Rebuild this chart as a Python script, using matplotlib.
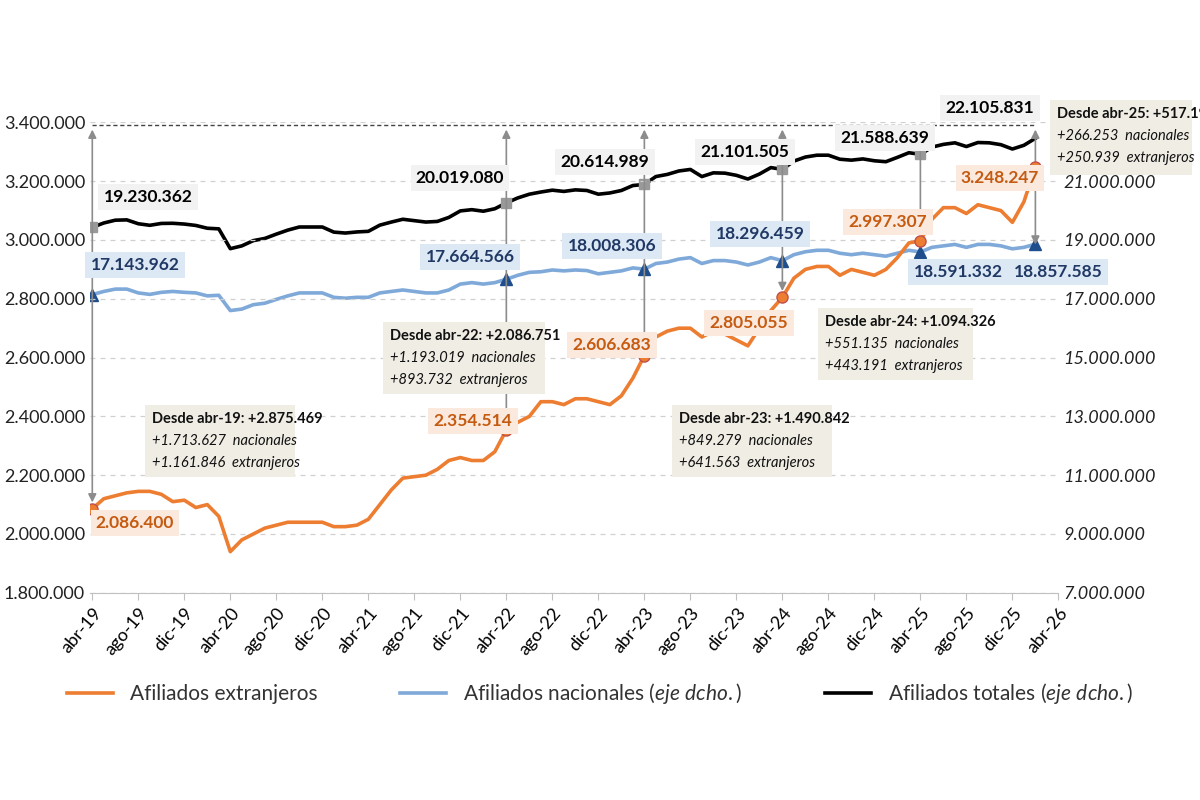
import matplotlib
matplotlib.use("Agg")
import matplotlib.pyplot as plt
from matplotlib.patches import Rectangle
from matplotlib.lines import Line2D
import numpy as np

plt.rcParams['font.family'] = ['Lato', 'DejaVu Sans']
plt.rcParams['mathtext.fontset'] = 'custom'
plt.rcParams['mathtext.it'] = 'Lato:italic'
plt.rcParams['mathtext.rm'] = 'Lato'

# Monthly data, abr-19 .. feb-26
extranjeros = [
    2.086, 2.12, 2.13, 2.14, 2.145, 2.145, 2.135, 2.11, 2.115,
    2.09, 2.10, 2.06, 1.94, 1.98, 2.00, 2.02, 2.03, 2.04, 2.04, 2.04, 2.04,
    2.025, 2.025, 2.03, 2.05, 2.10, 2.15, 2.19, 2.195, 2.20, 2.22, 2.25, 2.26,
    2.25, 2.25, 2.28, 2.354, 2.38, 2.40, 2.45, 2.45, 2.44, 2.46, 2.46, 2.45,
    2.44, 2.47, 2.53, 2.607, 2.67, 2.69, 2.70, 2.70, 2.67, 2.69, 2.68, 2.66,
    2.64, 2.70, 2.76, 2.805, 2.87, 2.90, 2.91, 2.91, 2.88, 2.90, 2.89, 2.88,
    2.90, 2.94, 2.99, 2.997, 3.07, 3.11, 3.11, 3.09, 3.12, 3.11, 3.10, 3.06,
    3.13, 3.248]
nacionales = [
    17.144, 17.25, 17.33, 17.33, 17.2, 17.15, 17.22, 17.25, 17.22,
    17.2, 17.1, 17.12, 16.6, 16.65, 16.8, 16.85, 16.98, 17.1, 17.2, 17.2, 17.2,
    17.05, 17.02, 17.05, 17.05, 17.2, 17.25, 17.3, 17.25, 17.2, 17.2, 17.3, 17.5,
    17.55, 17.5, 17.55, 17.665, 17.8, 17.9, 17.92, 17.98, 17.95, 17.98, 17.96, 17.85,
    17.9, 17.95, 18.05, 18.008, 18.2, 18.25, 18.35, 18.4, 18.2, 18.3, 18.3, 18.25,
    18.15, 18.25, 18.4, 18.296, 18.5, 18.6, 18.65, 18.65, 18.55, 18.5, 18.55, 18.5,
    18.45, 18.55, 18.65, 18.591, 18.75, 18.8, 18.85, 18.75, 18.85, 18.85, 18.8, 18.7,
    18.75, 18.858]
totales = [e + n for e, n in zip(extranjeros, nacionales)]

tick_labels = ['abr-19', 'ago-19', 'dic-19', 'abr-20', 'ago-20', 'dic-20', 'abr-21', 'ago-21',
               'dic-21', 'abr-22', 'ago-22', 'dic-22', 'abr-23', 'ago-23', 'dic-23', 'abr-24',
               'ago-24', 'dic-24', 'abr-25', 'ago-25', 'dic-25', 'abr-26']
mark_idx = [0, 36, 48, 60, 72]
last = len(extranjeros) - 1
lab_tot = ['19.230.362', '20.019.080', '20.614.989', '21.101.505', '21.588.639', '22.105.831']
lab_nac = ['17.143.962', '17.664.566', '18.008.306', '18.296.459', '18.591.332', '18.857.585']
lab_ext = ['2.086.400', '2.354.514', '2.606.683', '2.805.055', '2.997.307', '3.248.247']
boxes = [
    ('Desde abr-19: +2.875.469', '+1.713.627  nacionales', '+1.161.846  extranjeros'),
    ('Desde abr-22: +2.086.751', '+1.193.019  nacionales', '+893.732  extranjeros'),
    ('Desde abr-23: +1.490.842', '+849.279  nacionales', '+641.563  extranjeros'),
    ('Desde abr-24: +1.094.326', '+551.135  nacionales', '+443.191  extranjeros'),
    ('Desde abr-25: +517.192', '+266.253  nacionales', '+250.939  extranjeros'),
]

ORANGE = '#ed7d31'; BLUE = '#7fa9d9'; NAVY = '#1f3864'; GREY = '#8c8c8c'

fig = plt.figure(figsize=(12, 8), dpi=100)
rect = [0.075, 0.259, 0.807, 0.588]
ax = fig.add_axes(rect)
ax2 = ax.twinx()
ax3 = ax.twinx()
ax3.axis('off')
ax.set_zorder(ax2.get_zorder() + 2)
ax3.set_zorder(ax2.get_zorder() + 1)
ax.patch.set_visible(False)
ax3.patch.set_visible(False)

x = np.arange(len(extranjeros))
ax3.plot(x, totales, color='black', lw=2.6)
ax2.plot(x, nacionales, color=BLUE, lw=2.6)
ax.plot(x, extranjeros, color=ORANGE, lw=2.6)

ax.set_xlim(-0.2, 84)
ax.set_ylim(1.8, 3.4)
ax2.set_ylim(7, 23)
ax3.set_ylim(7.42, 22.62)
lt = np.arange(1.8, 3.41, 0.2)
ax.set_yticks(lt)
ax.set_yticklabels([f"{int(round(v*1e6)):,}".replace(',', '.') for v in lt], fontsize=13)
rt = np.arange(7, 23.1, 2)
ax2.set_yticks(rt)
ax2.set_yticklabels([f"{int(v*1e6):,}".replace(',', '.') for v in rt], fontsize=13, style='italic')
ax.set_xticks(np.arange(0, 85, 4))
ax.set_xticklabels(tick_labels, rotation=50, ha='right', rotation_mode='anchor', fontsize=13)
ax.grid(axis='y', ls=(0, (4, 4)), color='#d0d0d0', lw=0.9)
for a in (ax, ax2):
    for s in ['top', 'left', 'right']:
        a.spines[s].set_visible(False)
    a.tick_params(axis='y', length=0, colors='#222222')
ax.spines['bottom'].set_color('#c0c0c0')
ax.tick_params(axis='x', color='#c0c0c0', length=5)
ax2.spines['bottom'].set_visible(False)

ax.plot([0, last], [3.39, 3.39], ls=(0, (3, 2)), color='#444444', lw=1)

for i in mark_idx:
    ax.annotate('', xy=(i, extranjeros[i] + 0.012), xytext=(i, 3.385),
                arrowprops=dict(arrowstyle='<|-|>', color=GREY, lw=1.2, mutation_scale=12))
ax.annotate('', xy=(last, 3.385), xytext=(last, 2.975),
            arrowprops=dict(arrowstyle='<|-|>', color=GREY, lw=1.2, mutation_scale=12))

mi = mark_idx + [last]
ax3.plot(mark_idx, [totales[i] for i in mark_idx], 's', color='#999999', ms=7, zorder=5)
ax2.plot(mi, [nacionales[i] for i in mi], '^', color='#1f4e8c', ms=9, zorder=5)
ax.plot(mi, [extranjeros[i] for i in mi], 'o', color=ORANGE, mec='#c0504d', ms=8, zorder=6)

def lab(t, xp, yp, col, bg):
    fig.text(xp / 1200, 1 - yp / 800, t, color=col, fontsize=12.5, fontweight='bold',
             ha='center', va='center', zorder=8,
             bbox=dict(boxstyle='square,pad=0.3', fc=bg, ec='none'))

for t, p in zip(lab_tot, [(148, 197), (460, 178), (605, 162), (745, 152), (885, 138), (990, 108)]):
    lab(t, *p, 'black', '#f2f2f2')
for t, p in zip(lab_nac, [(135, 265), (470, 257), (612, 246), (760, 234), (958, 272), (1058, 272)]):
    lab(t, *p, NAVY, '#dde8f5')
for t, p in zip(lab_ext, [(135, 523), (473, 421), (612, 345), (749, 323), (888, 222), (1000, 178)]):
    lab(t, *p, '#c55a11', '#fbe9de')

for (h, a, b), (bx, by, bw, bh) in zip(boxes, [(145, 405, 150, 72), (383, 322, 162, 72),
                                               (672, 405, 160, 72), (818, 308, 155, 72),
                                               (1050, 100, 142, 75)]):
    fig.patches.append(Rectangle((bx / 1200, 1 - (by + bh) / 800), bw / 1200, bh / 800,
                                 transform=fig.transFigure, fc='#efede4', ec='none', zorder=9))
    for k, (t, kw) in enumerate([(h, dict(fontweight='bold')), (a, dict(style='italic')),
                                 (b, dict(style='italic'))]):
        fig.text((bx + 7) / 1200, 1 - (by + 14 + k * 22) / 800, t, fontsize=10.5,
                 ha='left', va='center', color='#111111', zorder=10, **kw)

handles = [Line2D([], [], color=ORANGE, lw=2.6), Line2D([], [], color=BLUE, lw=2.6),
           Line2D([], [], color='black', lw=2.6)]
labels = ['Afiliados extranjeros', r'Afiliados nacionales $\it{(eje\ dcho.)}$',
          r'Afiliados totales $\it{(eje\ dcho.)}$']
fig.legend(handles, labels, loc='center', bbox_to_anchor=(0.5, 0.133), ncol=3, frameon=False,
           fontsize=15, handlelength=2.2, columnspacing=4, labelcolor='#333333')

fig.savefig('out.png', dpi=100, facecolor='white')
